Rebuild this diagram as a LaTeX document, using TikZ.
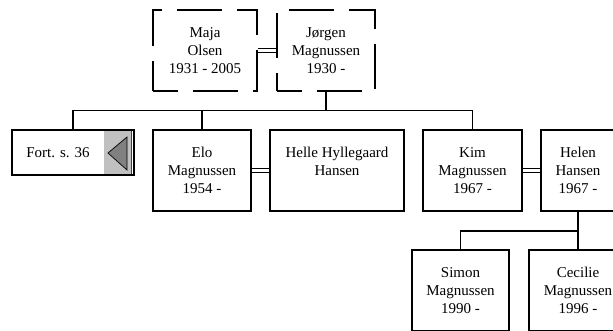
\documentclass[tikz,border=0pt]{standalone}
\usepackage{fontspec}
\setmainfont{Liberation Serif}
\usetikzlibrary{backgrounds}
\definecolor{btngrey}{HTML}{C0C0C0}
\definecolor{tridark}{HTML}{808080}
\begin{document}
\begin{tikzpicture}[x=1pt,y=-1pt,
  person/.style={draw, line width=1.8pt, inner sep=0pt, align=center,
    font=\fontsize{15}{18}\selectfont, minimum height=81pt},
  dperson/.style={person, line width=1.2pt, dash pattern=on 45pt off 15pt, dash phase=20pt},
  link/.style={line width=1.8pt, line join=miter},
  marriage/.style={double, double distance=3.1pt, line width=1pt},
  plain/.style={inner sep=0pt, font=\fontsize{15}{18}\selectfont}
]
\useasboundingbox (0,0) rectangle (613,330);
\clip (0,0) rectangle (613,330);

% generation 1
\node[dperson, minimum width=104pt] (maja) at (205,50.5) {Maja\\Olsen\\1931 - 2005};
\node[dperson, minimum width=98pt] (jorgen) at (326,50.5) {Jørgen\\Magnussen\\1930 -};

% continuation box
\node[fill=btngrey, inner sep=0pt, minimum width=28pt, minimum height=44pt] (fortbtn) at (118,152.5) {};
\node[person, minimum width=122pt, minimum height=45pt] (fort) at (73,152.5) {};
\node[plain] (forttext) at (58,153) {Fort. s. 36};
\draw[line width=0.6pt, gray!50!black] (131,131) -- (131,174);
\draw[fill=tridark, line width=0.7pt] (108,153) -- (127,137) -- (127,170) -- cycle;

% generation 2
\node[person, minimum width=98pt] (elo) at (202,170.5) {Elo\\Magnussen\\1954 -};
\node[person, minimum width=134pt] (helle) at (337,170.5) {Helle Hyllegaard\\Hansen\\\mbox{}};
\node[person, minimum width=99pt] (kim) at (472.5,170.5) {Kim\\Magnussen\\1967 -};
\node[person, minimum width=74pt] (helen) at (578,170.5) {Helen\\Hansen\\1967 -};

% generation 3
\node[person, minimum width=97pt] (simon) at (460.5,290.5) {Simon\\Magnussen\\1990 -};
\node[person, minimum width=98pt] (cecilie) at (578,290.5) {Cecilie\\Magnussen\\1996 -};

\coordinate (bar) at (0,110.5);
\coordinate (hbar) at (0,231);

\begin{scope}[on background layer]
  \draw[marriage] (maja.east) -- (jorgen.west);
  \draw[marriage] (elo.east) -- (helle.west);
  \draw[marriage] (kim.east) -- (helen.west);
  \draw[link] (jorgen.south) -- (jorgen.south |- bar);
  \draw[link] (fort.north) -- (fort.north |- bar) -| (kim.north);
  \draw[link] (elo.north) -- (elo.north |- bar);
  \draw[link] (helen.south) -- (cecilie.north);
  \draw[link] (simon.north) |- (helen.south |- hbar);
\end{scope}
\end{tikzpicture}
\end{document}
